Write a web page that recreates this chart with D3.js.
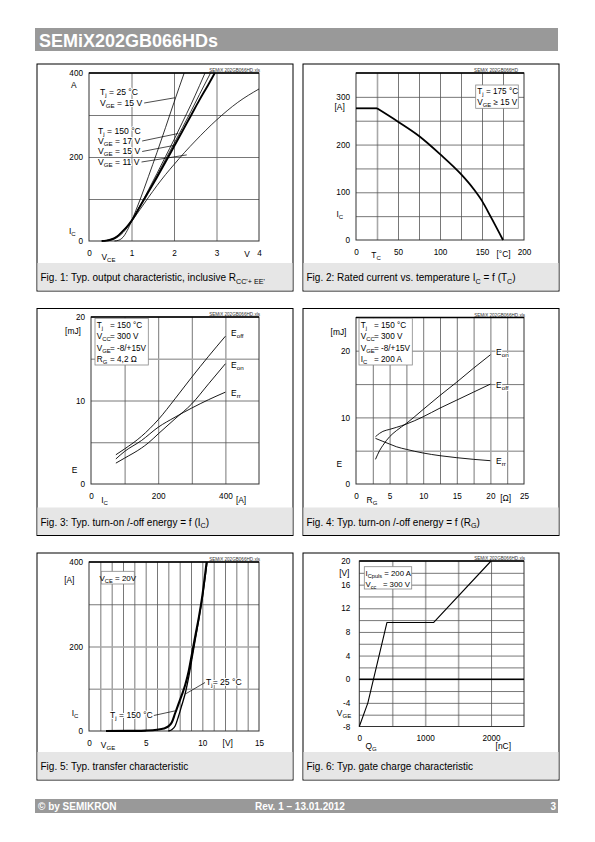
<!DOCTYPE html>
<html><head><meta charset="utf-8">
<script src="https://cdn.jsdelivr.net/npm/d3@7"></script>
<style>
body{margin:0;background:#fff}
svg{display:block}
text{font-family:"Liberation Sans",Arial,Helvetica,sans-serif}
</style>
</head><body>
<svg id="c" width="595" height="842"></svg>
<script>
// ---------------- DATA ----------------
// Fig. 1 — output characteristic: [VCE (V), IC (A)]
const fig1Tj25Vge15  = [[0.6,0],[0.7,2],[0.8,9],[0.9,25],[1.0,47],[1.1,72],[1.2,98],[1.4,154],[1.6,211],[1.8,270],[2.0,330],[2.24,400]];
const fig1Tj150Vge17 = [[0.3,0],[0.4,1],[0.5,3],[0.6,7],[0.7,14],[0.8,24],[0.9,35],[1.0,48],[1.2,84],[1.4,122],[1.6,161],[1.8,201],[2.0,241],[2.2,283],[2.4,325],[2.6,370],[2.73,400]];
const fig1Tj150Vge15 = [[0.3,0],[0.4,1],[0.5,3],[0.6,7],[0.7,14],[0.8,24],[0.9,35],[1.0,48],[1.2,82],[1.4,117],[1.6,152],[1.8,188],[2.0,225],[2.2,262],[2.4,299],[2.6,336],[2.8,371],[2.96,400]];
const fig1Tj150Vge15b= [[0.3,0],[0.4,1],[0.5,3],[0.6,7],[0.7,14],[0.8,24],[0.9,35],[1.0,48],[1.2,83],[1.4,119],[1.6,156],[1.8,194],[2.0,232],[2.2,270],[2.4,309],[2.6,349],[2.86,400]];
const fig1Tj150Vge11 = [[0.35,0],[0.5,2],[0.6,5],[0.7,11],[0.8,20],[0.9,32],[1.0,46],[1.2,75],[1.4,104],[1.6,132],[1.8,158],[2.0,182],[2.25,211],[2.5,238],[3.0,288],[3.5,330],[4.0,362]];
const fig1XTicks = [0,1,2,3,4];
const fig1YTicks = [0,200,400];

// Fig. 2 — rated current vs. case temperature
const fig2Tc = [0,25,50,75,100,125,140,150,160,175];
const fig2Ic = [276,276,248,218,180,138,107,82,50,0];
const fig2XTicks = [0,50,100,150,200];
const fig2YTicks = [0,100,200,300];

// Fig. 3 — switching energy vs. IC: [IC (A), E (mJ)]
const fig3Eoff = [[74,3.5],[100,4.2],[150,5.7],[200,7.7],[250,10.2],[300,12.8],[350,15.3],[400,17.7]];
const fig3Eon  = [[74,2.5],[100,3.1],[150,4.3],[170,4.9],[200,6.0],[250,7.8],[300,9.6],[350,12.0],[400,14.4]];
const fig3Err  = [[74,3.0],[100,3.9],[150,5.2],[200,6.8],[250,8.0],[300,9.1],[350,10.1],[400,11.0]];
const fig3XTicks = [0,200,400];
const fig3YTicks = [0,10,20];

// Fig. 4 — switching energy vs. RG: [RG (Ohm), E (mJ)]
const fig4Eon  = [[2.9,3.7],[3.5,5.0],[4,5.8],[4.5,6.5],[5,7.1],[6,8.0],[7.5,9.1],[10,11.2],[12.5,13.3],[15,15.3],[17.5,17.4],[20,19.4]];
const fig4Eoff = [[2.9,7.1],[3.5,7.6],[4,7.9],[5,8.2],[6,8.5],[7.5,9.0],[10,10.1],[12.5,11.4],[15,12.6],[17.5,13.8],[20,15.0]];
const fig4Err  = [[2.9,6.85],[4,6.4],[5,6.0],[6,5.6],[7.5,5.2],[10,4.65],[12.5,4.25],[15,3.95],[17.5,3.7],[20,3.5]];
const fig4XTicks = [0,5,10,15,20,25];
const fig4YTicks = [0,10,20];

// Fig. 5 — transfer characteristic: [VGE (V), IC (A)]
const fig5Tj150 = [[1.5,0],[4,0.4],[5,1],[6,3],[6.6,6],[7,11],[7.3,20],[7.6,42],[7.9,64],[8.2,86],[8.5,110],[8.8,142],[9.1,185],[9.4,228],[9.7,270],[10.0,320],[10.38,400]];
const fig5Tj25  = [[7.0,0],[7.3,3],[7.6,12],[7.9,35],[8.2,62],[8.5,90],[8.8,128],[9.1,173],[9.4,220],[9.7,266],[10.0,316],[10.42,400]];
const fig5XTicks = [0,5,10,15];
const fig5YTicks = [0,200,400];

// Fig. 6 — gate charge
const fig6Qg  = [0,130,420,1130,2000];
const fig6Vge = [-8,-4,9.6,9.6,20];
const fig6XTicks = [0,1000,2000];
const fig6YTicks = [-8,-4,0,4,8,12,16,20];

// ---------------- HELPERS ----------------
const svg = d3.select('#c');
const FONT = '"Liberation Sans",Arial,Helvetica,sans-serif';
const LBL = 8.6;

function rich(g, str, x, y, size, opt) {
  opt = opt || {};
  const t = g.append('text').attr('x', x).attr('y', y).attr('font-size', size)
    .attr('text-anchor', opt.anchor || 'start').attr('fill', opt.fill || '#000')
    .attr('font-weight', opt.weight || 'normal').style('white-space', 'pre');
  const parts = str.split(/(_\{[^}]*\})/);
  let sub = false;
  const sh = size * 0.28;
  parts.forEach(p => {
    if (!p) return;
    if (p.startsWith('_{')) {
      t.append('tspan').attr('font-size', size * 0.72).attr('dy', sub ? 0 : sh).text(p.slice(2, -1));
      sub = true;
    } else {
      const ts = t.append('tspan').text(p);
      if (sub) { ts.attr('dy', -sh); sub = false; }
    }
  });
  if (opt.halo) t.attr('stroke', '#fff').attr('stroke-width', 2.2).attr('paint-order', 'stroke').attr('stroke-linejoin', 'round');
  return t;
}
function seg(g, x1, y1, x2, y2, w) {
  g.append('line').attr('x1', x1).attr('y1', y1).attr('x2', x2).attr('y2', y2)
    .attr('stroke', '#000').attr('stroke-width', w || 0.7);
}
function legendBox(g, x, y, w, h) {
  g.append('rect').attr('x', x).attr('y', y).attr('width', w).attr('height', h)
    .attr('fill', '#fff').attr('stroke', '#888').attr('stroke-width', 0.8);
}

function panel(c) {
  const g = svg.append('g');
  g.append('rect').attr('x', c.px).attr('y', c.py).attr('width', c.pw).attr('height', c.ph)
    .attr('fill', '#fff').attr('stroke', '#000').attr('stroke-width', 1);
  g.append('rect').attr('x', c.px + 0.5).attr('y', c.py + 199).attr('width', c.pw - 1).attr('height', c.ph - 199.5)
    .attr('fill', '#e6e6e6');
  rich(g, c.caption, c.px + 3.5, c.py + 217, 10);

  const x = d3.scaleLinear().domain(c.xd).range([c.x0, c.x1]);
  const y = d3.scaleLinear().domain(c.yd).range([c.y1, c.y0]);

  const gx = g.append('g').attr('transform', `translate(0,${c.y1})`)
    .call(d3.axisBottom(x).tickValues(c.gridX).tickSize(-(c.y1 - c.y0)).tickFormat(''));
  gx.select('.domain').remove();
  gx.selectAll('line').attr('stroke', d => (c.lightX && c.lightX.includes(d)) ? '#a8a8a8' : '#555')
    .attr('stroke-width', d => (c.lightX && c.lightX.includes(d)) ? 1.6 : 0.8);
  const gy = g.append('g').attr('transform', `translate(${c.x0},0)`)
    .call(d3.axisLeft(y).tickValues(c.gridY).tickSize(-(c.x1 - c.x0)).tickFormat(''));
  gy.select('.domain').remove();
  gy.selectAll('line').attr('stroke', d => (c.lightY && c.lightY.includes(d)) ? '#a8a8a8' : '#555')
    .attr('stroke-width', d => (c.lightY && c.lightY.includes(d)) ? 1.6 : 0.8);

  g.append('rect').attr('x', c.x0).attr('y', c.y0).attr('width', c.x1 - c.x0).attr('height', c.y1 - c.y0)
    .attr('fill', 'none').attr('stroke', '#333').attr('stroke-width', 1);
  seg(g, c.x0, c.y0, c.x1, c.y0, 1.5);

  const ax = g.append('g').attr('transform', `translate(0,${c.y1})`)
    .call(d3.axisBottom(x).tickValues(c.xTicks).tickSize(0).tickPadding(c.xPad || 9.5).tickFormat(d => String(d)));
  ax.select('.domain').remove();
  ax.selectAll('text').attr('font-size', 8.2).attr('font-family', FONT).attr('fill', '#000');
  const ay = g.append('g').attr('transform', `translate(${c.x0},0)`)
    .call(d3.axisLeft(y).tickValues(c.yTicks).tickSize(0).tickPadding(c.yPad || 6).tickFormat(d => String(d)));
  ay.select('.domain').remove();
  ay.selectAll('text').attr('font-size', 8.2).attr('font-family', FONT).attr('fill', '#000');

  g.append('text').attr('x', c.x1 + (c.wmDx || 1)).attr('y', c.y0 - 1).attr('text-anchor', 'end')
    .attr('font-size', 4.6).attr('fill', '#333').text(c.wm);

  (c.titles || []).forEach(t => rich(g, t[0], t[1], t[2], 8.4, { anchor: t[3] || 'middle' }));
  return { g, x, y };
}

function curve(p, data, w, curveType) {
  const line = d3.line().x(d => p.x(d[0])).y(d => p.y(d[1])).curve(curveType || d3.curveMonotoneX);
  p.g.append('path').datum(data).attr('d', line).attr('fill', 'none')
    .attr('stroke', '#000').attr('stroke-width', w || 1).attr('stroke-linejoin', 'round');
}

// ---------------- PAGE FRAME ----------------
svg.append('rect').attr('x', 35).attr('y', 28).attr('width', 523).attr('height', 23).attr('fill', '#999');
svg.append('text').attr('x', 39).attr('y', 46.5).attr('fill', '#fff').attr('font-weight', 'bold')
  .attr('font-size', 18).text('SEMiX202GB066HDs');
svg.append('rect').attr('x', 35).attr('y', 799).attr('width', 523).attr('height', 14).attr('fill', '#999');
svg.append('text').attr('x', 38).attr('y', 809.8).attr('fill', '#fff').attr('font-weight', 'bold').attr('font-size', 10).text('© by SEMIKRON');
svg.append('text').attr('x', 255).attr('y', 809.8).attr('fill', '#fff').attr('font-weight', 'bold').attr('font-size', 10).text('Rev. 1 – 13.01.2012');
svg.append('text').attr('x', 556).attr('y', 809.8).attr('text-anchor', 'end').attr('fill', '#fff').attr('font-weight', 'bold').attr('font-size', 10).text('3');

const PX = [37, 303], PY = [64, 308.5, 553], PW = 256, PH = 227;

// ---------------- FIG 1 ----------------
{
  const p = panel({
    px: PX[0], py: PY[0], pw: PW, ph: PH,
    x0: 89, x1: 259, y0: 73, y1: 241, xd: [0, 4], yd: [0, 400],
    gridX: [1, 2, 3], gridY: [100, 200, 300],
    xTicks: fig1XTicks, yTicks: fig1YTicks,
    caption: "Fig. 1: Typ. output characteristic, inclusive R_{CC'+ EE'}",
    wm: 'SEMiX 202GB066HD.xls',
    titles: [['A', 71, 88, 'start'], ['I_{C}', 69, 234, 'start'], ['V_{CE}', 108.5, 259.5], ['V', 247, 257]]
  });
  curve(p, fig1Tj150Vge11, 0.8);
  curve(p, fig1Tj25Vge15, 0.8);
  curve(p, fig1Tj150Vge17, 0.8);
  curve(p, fig1Tj150Vge15b, 0.8);
  curve(p, fig1Tj150Vge15, 1.9);
  const L = [
    ['T_{j} = 25 °C', 100, 94.5, null],
    ['V_{GE} = 15 V', 100, 105.5, [2.02, 341]],
    ['T_{j} = 150 °C', 98, 133.5, null],
    ['V_{GE} = 17 V', 98, 143.5, [2.1, 256]],
    ['V_{GE} = 15 V', 98, 154, [2.02, 228]],
    ['V_{GE} = 11 V', 98, 164.5, [2.3, 205]]
  ];
  L.forEach(l => {
    const t = rich(p.g, l[0], l[1], l[2], LBL, { halo: true });
    if (l[3]) {
      const w = t.node().getComputedTextLength();
      seg(p.g, l[1] + w + 2, l[2] - 2.5, p.x(l[3][0]), p.y(l[3][1]));
    }
  });
}

// ---------------- FIG 2 ----------------
{
  const p = panel({
    px: PX[1], py: PY[0], pw: PW, ph: PH,
    x0: 356, x1: 524, y0: 73, y1: 240, xd: [0, 200], yd: [0, 350],
    gridX: [25, 50, 75, 100, 125, 150, 175], gridY: [50, 100, 150, 200, 250, 300],
    lightX: [25],
    xTicks: fig2XTicks, yTicks: fig2YTicks,
    caption: 'Fig. 2: Rated current vs. temperature I_{C} = f (T_{C})',
    wm: 'SEMiX 202GB066HD', wmDx: -6,
    titles: [['[A]', 334.5, 109.5, 'start'], ['I_{C}', 336.5, 216.5, 'start'], ['T_{C}', 376, 258], ['[°C]', 503.5, 256.5]]
  });
  const pts = fig2Tc.map((t, i) => [t, fig2Ic[i]]);
  curve(p, pts.slice(0, 2), 1.8, d3.curveLinear);
  curve(p, pts.slice(1), 1.8, d3.curveMonotoneX);
  legendBox(p.g, 475.7, 85, 42.6, 23.3);
  rich(p.g, 'T_{j} = 175 °C', 477.3, 93.5, 8.2);
  rich(p.g, 'V_{GE} ≥ 15 V', 477.3, 104.5, 8.2);
}

// ---------------- FIG 3 ----------------
{
  const p = panel({
    px: PX[0], py: PY[1], pw: PW, ph: PH,
    x0: 91, x1: 259, y0: 317, y1: 484, xd: [0, 500], yd: [0, 20],
    gridX: [100, 200, 300, 400], gridY: [5, 10, 15],
    lightY: [15],
    xTicks: fig3XTicks, yTicks: fig3YTicks,
    caption: 'Fig. 3: Typ. turn-on /-off energy = f (I_{C})',
    wm: 'SEMiX 202GB066HD.xls',
    titles: [['[mJ]', 73, 333.5], ['E', 74.5, 472.5], ['I_{C}', 104.5, 503], ['[A]', 241, 502.5]]
  });
  legendBox(p.g, 95, 318.3, 53.3, 46.7);
  [['T_{j}', '= 150 °C', 327.5], ['V_{CC}', '= 300 V', 339], ['V_{GE}', '= -8/+15V', 350.5], ['R_{G}', '= 4,2 Ω', 362]]
    .forEach(r => { rich(p.g, r[0], 96.8, r[2], 8.2); rich(p.g, r[1], 110, r[2], 8.2); });
  curve(p, fig3Eoff, 0.9);
  curve(p, fig3Eon, 0.9);
  curve(p, fig3Err, 0.9);
  rich(p.g, 'E_{off}', 231, 336, LBL, { halo: true });
  rich(p.g, 'E_{on}', 231, 368, LBL, { halo: true });
  rich(p.g, 'E_{rr}', 231, 396, LBL, { halo: true });
}

// ---------------- FIG 4 ----------------
{
  const p = panel({
    px: PX[1], py: PY[1], pw: PW, ph: PH,
    x0: 356, x1: 524, y0: 317.5, y1: 484, xd: [0, 25], yd: [0, 25],
    gridX: [2.5, 5, 7.5, 10, 12.5, 15, 17.5, 20, 22.5], gridY: [5, 10, 15, 20],
    lightY: [20, 5],
    xTicks: fig4XTicks, yTicks: fig4YTicks,
    caption: 'Fig. 4: Typ. turn-on /-off energy = f (R_{G})',
    wm: 'SEMiX 202GB066HD.xls',
    titles: [['[mJ]', 338.5, 334.5], ['E', 339.3, 467], ['R_{G}', 372, 503], ['[Ω]', 505.7, 501]]
  });
  legendBox(p.g, 359, 318.3, 53.3, 46.7);
  [['T_{j}', '= 150 °C', 327.5], ['V_{CC}', '= 300 V', 339], ['V_{GE}', '= -8/+15V', 350.5], ['I_{C}', '= 200 A', 362]]
    .forEach(r => { rich(p.g, r[0], 360.8, r[2], 8.2); rich(p.g, r[1], 374, r[2], 8.2); });
  curve(p, fig4Eon, 0.9);
  curve(p, fig4Eoff, 0.9);
  curve(p, fig4Err, 0.9);
  rich(p.g, 'E_{on}', 496, 355, LBL, { halo: true });
  rich(p.g, 'E_{off}', 496, 388, LBL, { halo: true });
  rich(p.g, 'E_{rr}', 496, 464, LBL, { halo: true });
}

// ---------------- FIG 5 ----------------
{
  const p = panel({
    px: PX[0], py: PY[2], pw: PW, ph: PH,
    x0: 89, x1: 259, y0: 562, y1: 731, xd: [0, 15], yd: [0, 400],
    gridX: d3.range(1, 15), gridY: [100, 200, 300],
    lightY: [100, 200],
    xTicks: fig5XTicks, yTicks: fig5YTicks,
    caption: 'Fig. 5: Typ. transfer characteristic',
    wm: 'SEMiX 202GB066HD.xls',
    titles: [['[A]', 69.3, 582.5], ['I_{C}', 75, 715.5], ['V_{GE}', 108, 748], ['[V]', 227.7, 745.5]]
  });
  legendBox(p.g, 101.3, 571.3, 33, 12.7);
  rich(p.g, 'V_{CE} = 20V', 117.8, 580.5, 8, { anchor: 'middle' });
  curve(p, fig5Tj25, 1.3);
  curve(p, fig5Tj150, 2.1);
  const t1 = rich(p.g, 'T_{j} = 150 °C', 110, 718, LBL, { halo: true });
  seg(p.g, 110 + t1.node().getComputedTextLength() + 1, 715.5, p.x(7.65), p.y(48));
  rich(p.g, 'T_{j}= 25 °C', 206, 685, LBL, { halo: true });
  seg(p.g, 205, 682.5, p.x(8.53), p.y(88));
}

// ---------------- FIG 6 ----------------
{
  const p = panel({
    px: PX[1], py: PY[2], pw: PW, ph: PH,
    x0: 359.3, x1: 524, y0: 561, y1: 726.5, xd: [0, 2500], yd: [-8, 20],
    gridX: [500, 1000, 1500, 2000], gridY: d3.range(-6, 20, 2),
    lightX: [500, 1000, 1500],
    xTicks: fig6XTicks, yTicks: fig6YTicks, yPad: 9, xPad: 8.5,
    caption: 'Fig. 6: Typ. gate charge characteristic',
    wm: 'SEMiX 202GB066HD.xls',
    titles: [['[V]', 344.3, 576], ['V_{GE}', 344, 716], ['Q_{G}', 371, 749], ['[nC]', 503.3, 749]]
  });
  seg(p.g, p.x(0), p.y(0), p.x(2500), p.y(0), 1.6);
  legendBox(p.g, 364.3, 566.7, 47.4, 22.3);
  rich(p.g, 'I_{Cpuls} = 200 A', 365.6, 575.8, 7.8);
  rich(p.g, 'V_{cc}   = 300 V', 365.6, 587, 7.8);
  curve(p, fig6Qg.map((q, i) => [q, fig6Vge[i]]), 1.1, d3.curveLinear);
}
</script>
</body></html>
